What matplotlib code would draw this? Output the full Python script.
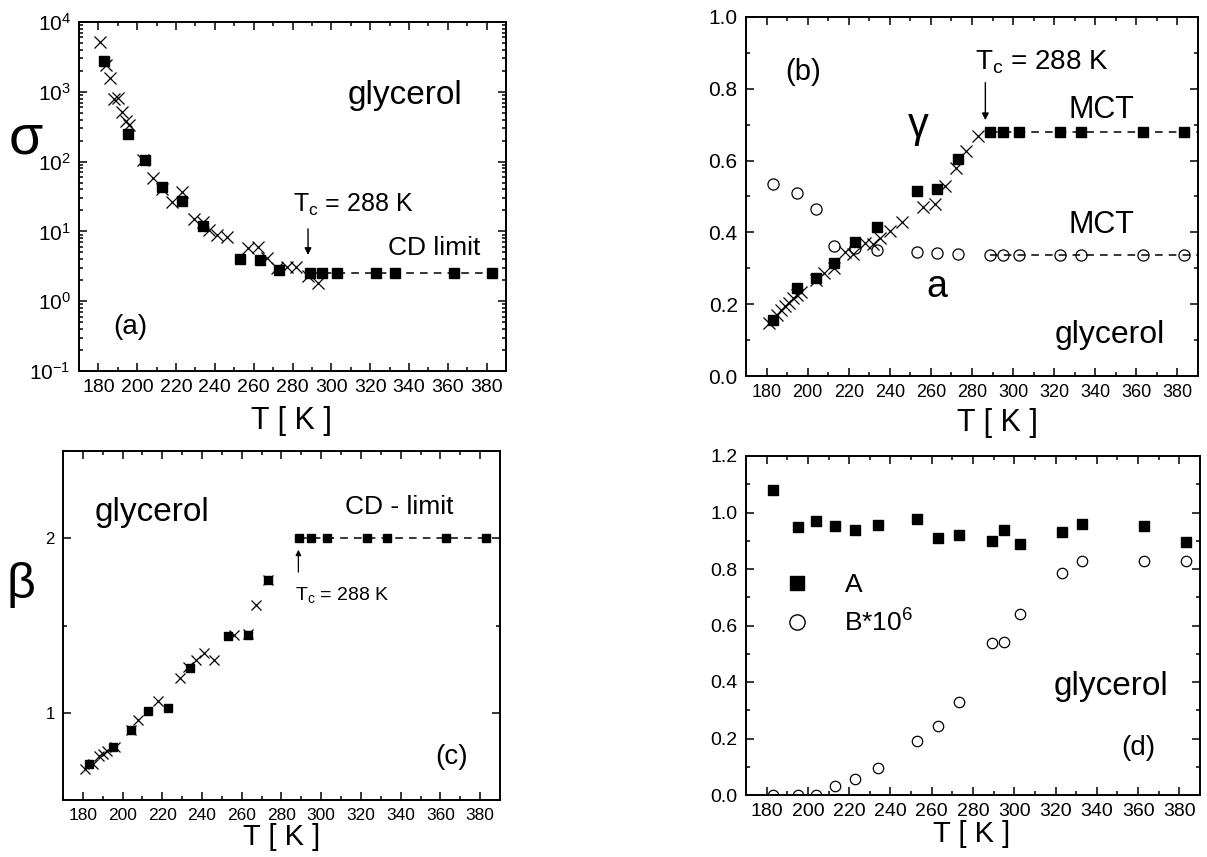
import math
import matplotlib
matplotlib.use("Agg")
import matplotlib.pyplot as plt
from matplotlib.ticker import MultipleLocator, LogLocator, NullFormatter, FixedLocator, FuncFormatter
from matplotlib.lines import Line2D
from matplotlib import font_manager

# ---------------------------------------------------------------- data
# temperatures of the fitted spectra (filled squares / open circles)
T_fit = [183, 195, 204, 213, 223, 234, 253, 263, 273, 289, 295, 303, 323, 333, 363, 383]
T_C = 288

# (a) width parameter sigma
sigma_fit = [2800, 251, 107, 43, 27, 11.9, 4.0, 3.85, 2.77, 2.54, 2.54, 2.54, 2.54, 2.54, 2.54, 2.54]
T_sigma_x = [181, 184, 186, 188, 190, 192, 194, 196, 203, 208, 213, 218, 223, 229, 234, 237,
             241, 246, 257, 262, 267, 272, 277, 282, 288, 293]
sigma_x = [5170, 2400, 1590, 795, 820, 515, 380, 330, 105, 59, 41, 26.5, 36.6, 15.2, 13.5, 10.4,
           8.8, 8.3, 5.7, 6.0, 4.2, 3.0, 3.1, 3.1, 2.3, 1.8]

# (b) exponents gamma and a
gamma_fit = [0.156, 0.246, 0.273, 0.314, 0.372, 0.414, 0.514, 0.520, 0.604,
             0.680, 0.680, 0.680, 0.680, 0.680, 0.680, 0.680]
a_fit = [0.536, 0.510, 0.466, 0.362, 0.356, 0.351, 0.346, 0.342, 0.340,
         0.336, 0.336, 0.336, 0.336, 0.336, 0.336, 0.336]
T_gamma_x = [181, 185, 187, 189, 191, 193, 195, 197, 204, 208, 213, 218, 222, 228, 232, 235,
             240, 246, 256, 262, 267, 272, 277, 283]
gamma_x = [0.148, 0.169, 0.183, 0.194, 0.204, 0.216, 0.225, 0.234, 0.267, 0.286, 0.302, 0.345,
           0.341, 0.370, 0.369, 0.385, 0.405, 0.430, 0.472, 0.480, 0.528, 0.579, 0.627, 0.669]

# (c) exponent beta
beta_fit = [0.707, 0.803, 0.899, 1.010, 1.029, 1.256, 1.442, 1.447, 1.759,
            2.0, 2.0, 2.0, 2.0, 2.0, 2.0, 2.0]
T_beta_x = [181, 185, 188, 190, 192, 196, 204, 208, 218, 229, 233, 237, 241, 246, 256, 263, 267, 273]
beta_x = [0.675, 0.705, 0.752, 0.765, 0.780, 0.805, 0.900, 0.956, 1.067, 1.200, 1.262, 1.300,
          1.344, 1.304, 1.444, 1.450, 1.616, 1.760]

# (d) amplitudes
A_fit = [1.079, 0.949, 0.970, 0.951, 0.938, 0.956, 0.978, 0.909, 0.919, 0.899, 0.938,
         0.889, 0.931, 0.958, 0.951, 0.895]
B_fit = [0.0, 0.0, 0.0, 0.032, 0.055, 0.094, 0.191, 0.246, 0.330, 0.539, 0.541,
         0.642, 0.786, 0.829, 0.829, 0.829]

x_ticks = list(range(180, 381, 20))

# ---------------------------------------------------------------- style
plt.rcParams["font.family"] = ["Liberation Sans", "DejaVu Sans"]
plt.rcParams["mathtext.fontset"] = "custom"
plt.rcParams["mathtext.rm"] = "Liberation Sans"
plt.rcParams["mathtext.it"] = "Liberation Sans:italic"
plt.rcParams["mathtext.bf"] = "Liberation Sans:bold"

installed = {f.name for f in font_manager.fontManager.ttflist}
NARROW = "Liberation Sans Narrow" if "Liberation Sans Narrow" in installed else "Liberation Sans"

W, H = 1207, 857
fig = plt.figure(figsize=(W / 100, H / 100), dpi=100)


def box(left, top, right, bottom):
    """Axes rectangle given in pixel edges of the figure."""
    return [left / W, 1 - bottom / H, (right - left) / W, (bottom - top) / H]


def frame(ax, xfs, yfs, xfam="Liberation Sans"):
    ax.set_xlim(170, 390)
    ax.xaxis.set_major_locator(FixedLocator(x_ticks))
    ax.xaxis.set_minor_locator(MultipleLocator(10))
    ax.tick_params(which="both", direction="in", top=True, right=True, width=1.1)
    ax.tick_params(which="major", length=5.5, pad=6)
    ax.tick_params(which="minor", length=3)
    for lab in ax.get_xticklabels():
        lab.set_fontsize(xfs)
        lab.set_family(xfam)
    ax.tick_params(axis="y", labelsize=yfs)
    for s in ax.spines.values():
        s.set_linewidth(1.4)


def xlabel(cx, top, size):
    fig.text(cx / W, 1 - top / H, "T [ K ]", ha="center", va="top", fontsize=size)


# ---------------------------------------------------------------- (a)
ax = fig.add_axes(box(79, 22, 506, 371))
ax.set_yscale("log")
ax.set_ylim(0.1, 1e4)
ax.plot(T_sigma_x, sigma_x, ls="none", marker="x", ms=8.5, mew=0.9, color="black")
ax.plot(T_fit, sigma_fit, ls="none", marker="s", ms=7, color="black")
hi = [i for i, t in enumerate(T_fit) if t >= T_C]
ax.plot([T_fit[i] for i in hi], [sigma_fit[i] for i in hi], ls=(0, (5, 4)), lw=1.1, color="black")
ax.yaxis.set_major_locator(LogLocator(base=10, numticks=10))
ax.yaxis.set_minor_locator(LogLocator(base=10, subs=range(2, 10), numticks=10))
ax.yaxis.set_minor_formatter(NullFormatter())
ax.yaxis.set_major_formatter(FuncFormatter(lambda v, p: r"$10^{%d}$" % round(math.log10(v))))
frame(ax, 14, 15, NARROW)
ax.annotate("", xy=(T_C, 4.2), xytext=(T_C, 11.9),
            arrowprops=dict(arrowstyle="-|>", color="black", lw=1.0, mutation_scale=10))
ax.text(280.3, 19, r"T$_{\mathregular{c}}$ = 288 K", fontsize=18)
ax.text(329, 4.6, "CD limit", fontsize=19)
ax.text(0.628, 0.765, "glycerol", transform=ax.transAxes, fontsize=24)
ax.text(0.08, 0.126, "(a)", transform=ax.transAxes, fontsize=20, va="center")
fig.text(26 / W, 1 - 139 / H, "σ", fontsize=40, ha="center", va="center")
xlabel(291, 406, 22)

# ---------------------------------------------------------------- (b)
ax = fig.add_axes(box(746, 17, 1198, 376))
ax.set_ylim(0, 1.0)
ax.plot(T_gamma_x, gamma_x, ls="none", marker="x", ms=8, mew=0.9, color="black")
ax.plot(T_fit, gamma_fit, ls="none", marker="s", ms=7, color="black")
ax.plot(T_fit, a_fit, ls="none", marker="o", ms=8, mfc="none", mec="black", mew=0.9)
ax.plot([T_fit[i] for i in hi] + [390], [gamma_fit[i] for i in hi] + [gamma_fit[-1]],
        ls=(0, (5, 4)), lw=1.1, color="black")
ax.plot([T_fit[i] for i in hi] + [390], [a_fit[i] for i in hi] + [a_fit[-1]],
        ls=(0, (5, 4)), lw=1.1, color="black")
ax.yaxis.set_major_locator(MultipleLocator(0.2))
ax.yaxis.set_minor_locator(MultipleLocator(0.1))
ax.yaxis.set_major_formatter(FuncFormatter(lambda v, p: "%.1f" % v))
frame(ax, 13, 15)
ax.annotate("", xy=(T_C - 1.5, 0.705), xytext=(T_C - 1.5, 0.825),
            arrowprops=dict(arrowstyle="-|>", color="black", lw=1.0, mutation_scale=10))
ax.text(281.7, 0.853, r"T$_{\mathregular{c}}$ = 288 K", fontsize=20)
ax.text(343, 0.718, "MCT", fontsize=22, ha="center")
ax.text(343, 0.398, "MCT", fontsize=22, ha="center")
ax.text(254, 0.667, "γ", fontsize=30, ha="center")
ax.text(263, 0.221, "a", fontsize=27, ha="center")
ax.text(320, 0.091, "glycerol", fontsize=23)
ax.text(198, 0.825, "(b)", fontsize=21, ha="center")
xlabel(997, 408, 22)

# ---------------------------------------------------------------- (c)
ax = fig.add_axes(box(63, 451, 500, 800))
ax.set_ylim(0.5, 2.5)
ax.plot(T_beta_x, beta_x, ls="none", marker="x", ms=7, mew=0.9, color="black")
ax.plot(T_fit, beta_fit, ls="none", marker="s", ms=5.5, color="black")
ax.plot([T_fit[i] for i in hi], [beta_fit[i] for i in hi], ls=(0, (5, 4)), lw=1.1, color="black")
ax.yaxis.set_major_locator(FixedLocator([1, 2]))
ax.yaxis.set_minor_locator(MultipleLocator(0.5))
frame(ax, 12.5, 12)
ax.annotate("", xy=(T_C + 0.5, 1.95), xytext=(T_C + 0.5, 1.79),
            arrowprops=dict(arrowstyle="-|>", color="black", lw=0.9, mutation_scale=8))
ax.text(287, 1.644, r"T$_{\mathregular{c}}$ = 288 K", fontsize=14)
ax.text(312, 2.138, "CD - limit", fontsize=19)
ax.text(186, 2.10, "glycerol", fontsize=24)
ax.text(357.5, 0.707, "(c)", fontsize=20)
fig.text(21 / W, 1 - 585 / H, "β", fontsize=36, ha="center", va="center")
xlabel(281.5, 823, 21)

# ---------------------------------------------------------------- (d)
ax = fig.add_axes(box(746, 456, 1200, 795))
ax.set_ylim(0, 1.2)
ax.plot(T_fit, A_fit, ls="none", marker="s", ms=7, color="black")
ax.plot(T_fit, B_fit, ls="none", marker="o", ms=7.5, mfc="none", mec="black", mew=0.9)
ax.yaxis.set_major_locator(MultipleLocator(0.2))
ax.yaxis.set_minor_locator(MultipleLocator(0.1))
ax.yaxis.set_major_formatter(FuncFormatter(lambda v, p: "%.1f" % v))
frame(ax, 14, 14)
ax.legend([Line2D([], [], ls="none", marker="s", ms=10, color="black"),
           Line2D([], [], ls="none", marker="o", ms=11, mfc="none", mec="black", mew=1.0)],
          ["A", r"B*10$^{6}$"], loc="upper left", bbox_to_anchor=(0.06, 0.685),
          frameon=False, fontsize=19, handlelength=1.0, handletextpad=1.3,
          labelspacing=0.45, borderaxespad=0)
ax.text(319, 0.354, "glycerol", fontsize=24)
ax.text(352, 0.141, "(d)", fontsize=20)
xlabel(972, 820, 21)

fig.savefig("out.png", dpi=100)
